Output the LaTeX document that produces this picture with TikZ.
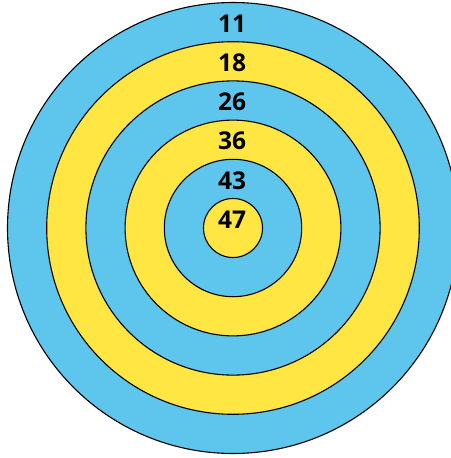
\documentclass[tikz,border=0pt]{standalone}
\usepackage{fontspec}
\setmainfont{Open Sans}
\definecolor{ringblue}{RGB}{94,197,236}
\definecolor{ringyellow}{RGB}{255,230,66}
\begin{document}
\begin{tikzpicture}[x=1pt,y=1pt,
  ring/.style={draw=black,line width=1.1pt},
  score/.style={inner sep=0pt,font=\fontsize{24.5}{26}\selectfont\bfseries,text=black}]
\useasboundingbox (0,0) rectangle (450,-458);
\coordinate (c) at (233,-228);
\fill[ringblue,ring] (c) circle[radius=225.5];
\fill[ringyellow,ring] (c) circle[radius=186.3];
\fill[ringblue,ring] (c) circle[radius=147.1];
\fill[ringyellow,ring] (c) circle[radius=107.9];
\fill[ringblue,ring] (c) circle[radius=68.7];
\fill[ringyellow,ring] (c) circle[radius=29.5];
\node[score] (s11) at (232,-23.5) {11};
\node[score] (s18) at (232,-62.7) {18};
\node[score] (s26) at (232,-101.9) {26};
\node[score] (s36) at (232,-141.1) {36};
\node[score] (s43) at (232,-180.3) {43};
\node[score] (s47) at (232,-219.5) {47};
\end{tikzpicture}
\end{document}
